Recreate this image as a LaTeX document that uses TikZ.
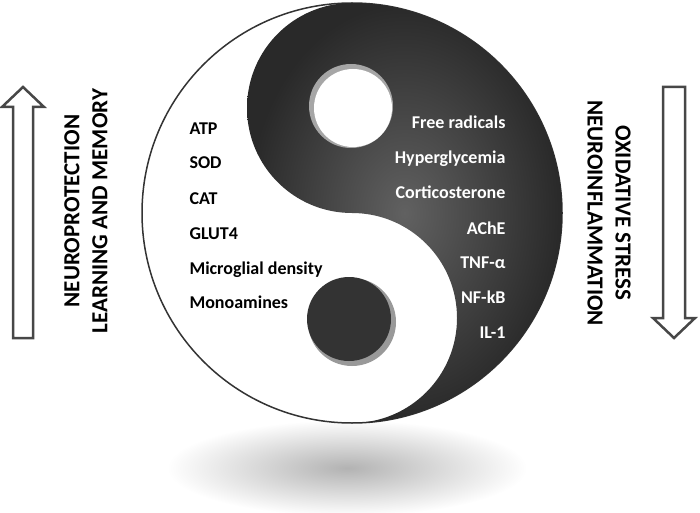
\documentclass[tikz,border=0pt]{standalone}
\usepackage{fontspec}
\setmainfont{Carlito}[BoldFont={Carlito Bold}]
\begin{document}
\begin{tikzpicture}[x=1pt,y=1pt,
	lefttxt/.style={anchor=base west,font=\fontsize{18}{18}\selectfont\bfseries},
	righttxt/.style={anchor=base east,text=white,font=\fontsize{18}{18}\selectfont\bfseries},
	sidetxt/.style={align=center,font=\fontsize{23}{28}\selectfont\bfseries},
	blockarrow/.style={draw=black!72,line width=2.5pt,fill=white,line join=miter}]
	\useasboundingbox (0,0) rectangle (700,512);
	%% shadow under the disc
	\shade[inner color=black!30,outer color=white] (347,44) ellipse [x radius=180,y radius=48];
	%% disc
	\coordinate (C) at (352,299);
	\fill[white] (C) circle (210);
	\draw[black!80,line width=1.5pt] (C) circle (210);
	%% dark half
	\shade[inner color=black!62,outer color=black!84]
		(352,509) arc [start angle=90,end angle=-90,radius=210]
		arc [start angle=-90,end angle=90,radius=105]
		arc [start angle=-90,end angle=-270,radius=105] -- cycle;
	%% eyes
	\fill[black!35] (351,406) circle (42);
	\fill[white] (353,404) circle (39);
	\fill[black!40] (352,190) circle (44);
	\fill[black!80] (349,193) circle (42);
	%%% arrows
	\draw[blockarrow] (13,174) -- (13,405) -- (2,405) -- (23,425) -- (44,405) -- (33,405) -- (33,174) -- cycle;
	\draw[blockarrow] (663,425) -- (685,425) -- (685,194) -- (695,194) -- (674,174) -- (653,194) -- (663,194) -- cycle;
	%% side labels
	\node[sidetxt,rotate=90] (neuro) at (86,301) {NEUROPROTECTION\\LEARNING AND MEMORY};
	\node[sidetxt,rotate=-90] (oxid) at (609,299) {OXIDATIVE STRESS\\NEUROINFLAMMATION};
	%% white side
	\node[lefttxt] (atp) at (186,377) {ATP};
	\node[lefttxt] (sod) at (186,343) {SOD};
	\node[lefttxt] (cat) at (186,308) {CAT};
	\node[lefttxt] (glut) at (186,273) {GLUT4};
	\node[lefttxt] (micro) at (186,238) {Microglial density};
	\node[lefttxt] (mono) at (186,204) {Monoamines};
	%% dark side
	\node[righttxt] (free) at (509,383) {Free radicals};
	\node[righttxt] (hyper) at (509,348) {Hyperglycemia};
	\node[righttxt] (cort) at (509,313) {Corticosterone};
	\node[righttxt] (ache) at (509,278) {AChE};
	\node[righttxt] (tnf) at (509,244) {TNF-α};
	\node[righttxt] (nfkb) at (509,209) {NF-kB};
	\node[righttxt] (il) at (509,174) {IL-1};
\end{tikzpicture}
\end{document}
